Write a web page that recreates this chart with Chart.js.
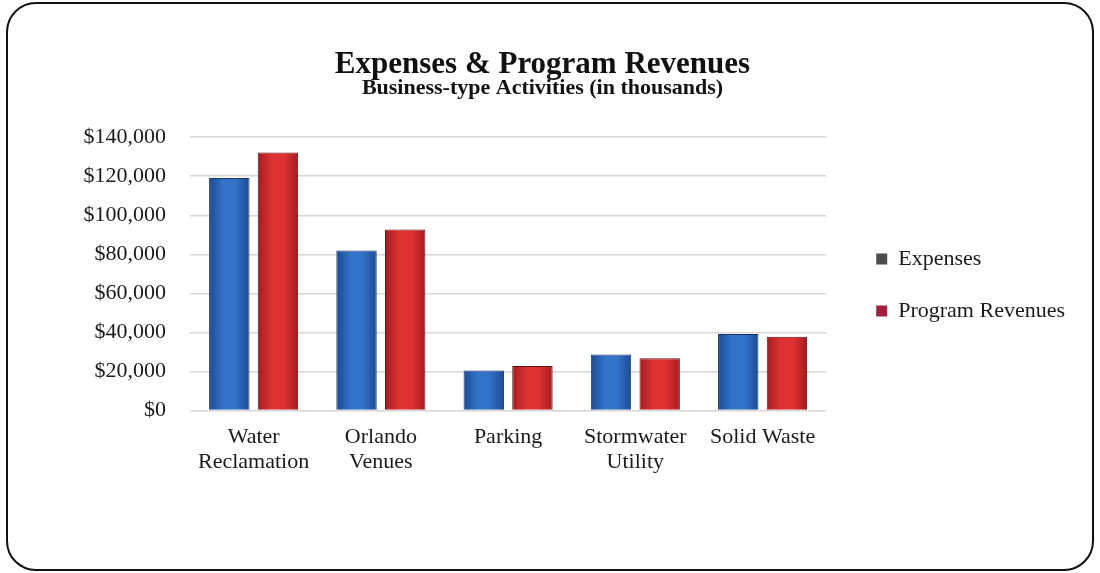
<!DOCTYPE html>
<html>
<head>
<meta charset="utf-8">
<script src="https://cdn.jsdelivr.net/npm/chart.js@4.4.0/dist/chart.umd.min.js"></script>
<style>
  html, body { margin: 0; padding: 0; background: #fff; }
  #frame {
    position: absolute; left: 6px; top: 2px;
    width: 1084px; height: 565px;
    border: 2px solid #111; border-radius: 30px;
  }
  #wrap { position: absolute; left: 0; top: 0; width: 1100px; height: 573px; }
</style>
</head>
<body>
<div id="frame"></div>
<div id="wrap"><canvas id="chart"></canvas></div>
<script>
// Business-type activities, in thousands of dollars
var categories = [
  ["Water", "Reclamation"],
  ["Orlando", "Venues"],
  "Parking",
  ["Stormwater", "Utility"],
  "Solid Waste"
];
var expenses = [119100, 82000, 20500, 28600, 39100];
var programRevenues = [132200, 92700, 22700, 26700, 37800];
var yTicks = [0, 20000, 40000, 60000, 80000, 100000, 120000, 140000];

var serif = "'Liberation Serif', 'Times New Roman', serif";
var catPct = 0.765;
var barPct = 0.83;

// shaded fill for each bar: darker edges, lighter middle
function barFill(edge, mid) {
  return function (context) {
    var chart = context.chart;
    var xs = chart.scales.x;
    if (!xs || !chart.chartArea || context.dataIndex === undefined) return mid;
    var catW = xs.width / categories.length;
    var slot = catW * catPct / 2;
    var w = slot * barPct;
    var cx = xs.getPixelForValue(context.dataIndex) + (context.datasetIndex - 0.5) * slot;
    var g = chart.ctx.createLinearGradient(cx - w / 2, 0, cx + w / 2, 0);
    g.addColorStop(0, edge);
    g.addColorStop(0.35, mid);
    g.addColorStop(0.65, mid);
    g.addColorStop(1, edge);
    return g;
  };
}

var ctx = document.getElementById("chart").getContext("2d");
new Chart(ctx, {
  type: "bar",
  data: {
    labels: categories,
    datasets: [
      {
        label: "Expenses",
        data: expenses,
        backgroundColor: barFill("#1c4c94", "#3272c8"),
        borderColor: "#1a3560",
        borderWidth: 1
      },
      {
        label: "Program Revenues",
        data: programRevenues,
        backgroundColor: barFill("#a61c20", "#dd3232"),
        borderColor: "#5e1414",
        borderWidth: 1
      }
    ]
  },
  options: {
    responsive: true,
    maintainAspectRatio: false,
    animation: false,
    layout: { padding: { left: 10, right: 25, top: 49, bottom: 84 } },
    datasets: {
      bar: { categoryPercentage: catPct, barPercentage: barPct }
    },
    scales: {
      x: {
        grid: { display: false, drawTicks: false },
        border: { display: false },
        ticks: {
          padding: 14,
          color: "#1a1a1a",
          font: { family: serif, size: 22, lineHeight: 1.15 },
          maxRotation: 0
        }
      },
      y: {
        min: 0,
        max: 140000,
        afterFit: function (scale) { scale.width = 180; },
        afterBuildTicks: function (scale) {
          scale.ticks = yTicks.map(function (v) { return { value: v }; });
        },
        grid: { color: "#d6d6d6", lineWidth: 1.5, drawTicks: false },
        border: { display: false },
        ticks: {
          padding: 24,
          color: "#1a1a1a",
          font: { family: serif, size: 22 },
          callback: function (v) { return "$" + v.toLocaleString("en-US"); }
        }
      },
      // empty axis that keeps a gap between the plot and the legend
      gap: {
        type: "linear",
        position: "right",
        afterFit: function (scale) { scale.width = 20; },
        grid: { display: false },
        border: { display: false },
        ticks: { display: false }
      }
    },
    plugins: {
      title: {
        display: true,
        text: "Expenses & Program Revenues",
        color: "#111",
        font: { family: serif, size: 31, weight: "bold", lineHeight: 1.0 },
        padding: { top: 0, bottom: 2 }
      },
      subtitle: {
        display: true,
        text: "Business-type Activities (in thousands)",
        color: "#111",
        font: { family: serif, size: 22, weight: "bold", lineHeight: 0.6 },
        padding: { top: 0, bottom: 42 }
      },
      legend: {
        position: "right",
        maxWidth: 260,
        title: {
          display: true,
          text: " ",
          font: { size: 20, lineHeight: 1 },
          padding: 6
        },
        labels: {
          color: "#1a1a1a",
          font: { family: serif, size: 22 },
          boxWidth: 11,
          boxHeight: 11,
          padding: 30,
          generateLabels: function (chart) {
            var marks = ["#4d4d4d", "#a3203e"];
            return chart.data.datasets.map(function (ds, i) {
              return {
                text: ds.label,
                fillStyle: marks[i],
                strokeStyle: marks[i],
                fontColor: "#1a1a1a",
                lineWidth: 0,
                datasetIndex: i
              };
            });
          }
        }
      },
      tooltip: { enabled: false }
    }
  }
});
</script>
</body>
</html>
